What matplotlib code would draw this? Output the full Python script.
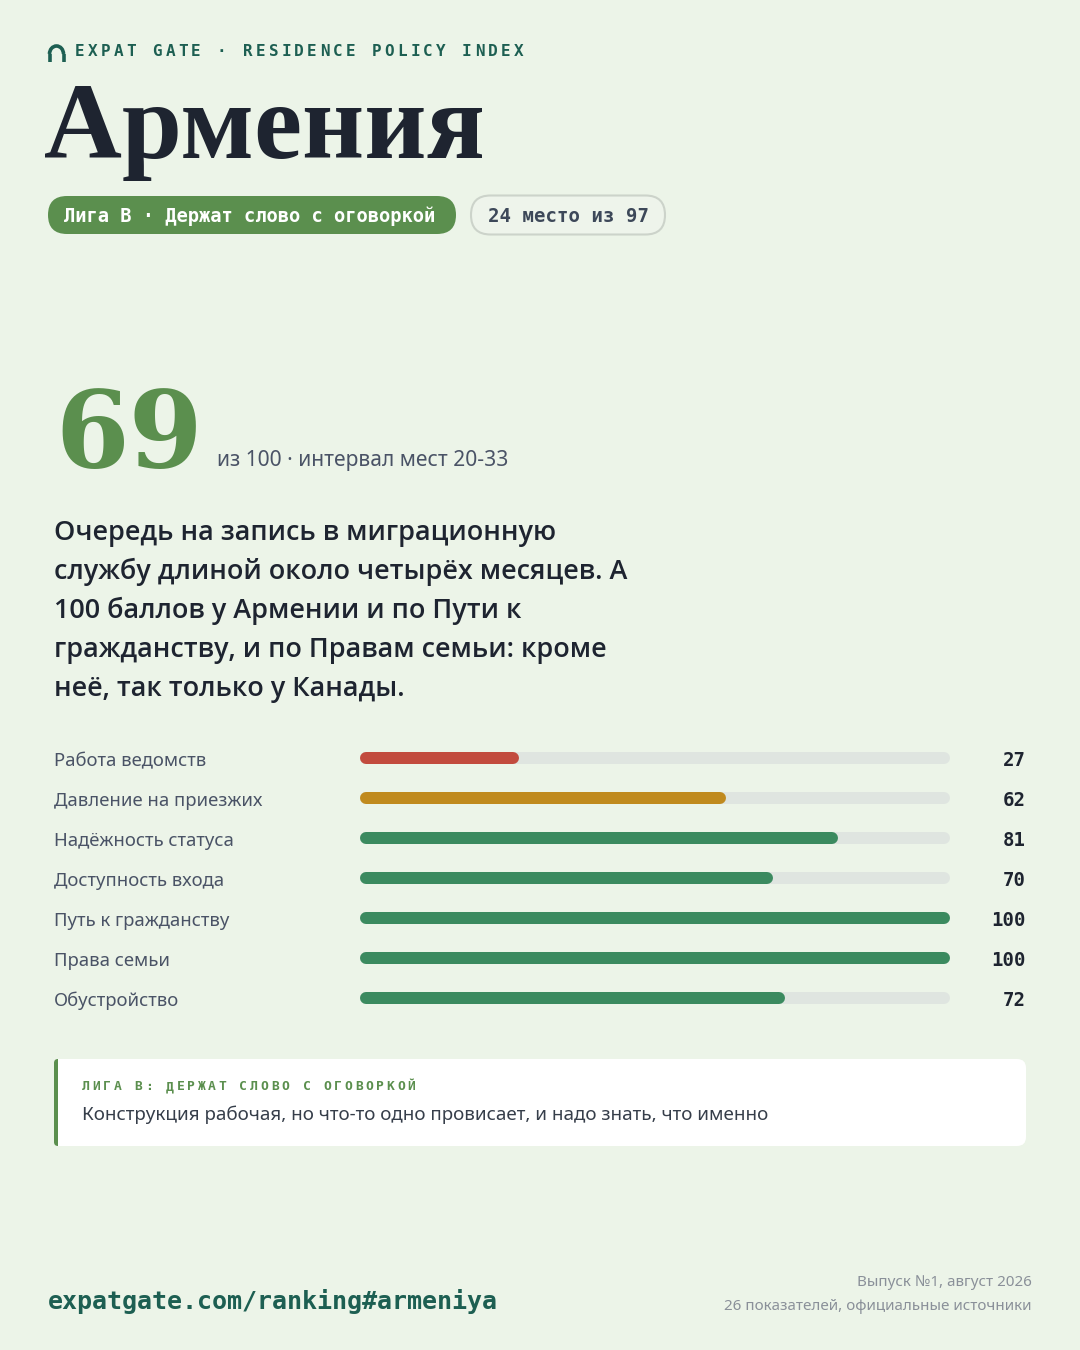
import matplotlib
matplotlib.use("Agg")
import matplotlib.pyplot as plt
from matplotlib.patches import FancyBboxPatch, Arc
import numpy as np

# данные
country = "Армения"
score = 69
league = "Лига B · Держат слово с оговоркой"
rank_text = "24 место из 97"
subtitle = "из 100 · интервал мест 20-33"
lead_lines = [
    "Очередь на запись в миграционную",
    "службу длиной около четырёх месяцев. А",
    "100 баллов у Армении и по Пути к",
    "гражданству, и по Правам семьи: кроме",
    "неё, так только у Канады.",
]
categories = ["Работа ведомств", "Давление на приезжих", "Надёжность статуса",
              "Доступность входа", "Путь к гражданству", "Права семьи", "Обустройство"]
values = [27, 62, 81, 70, 100, 100, 72]
bar_colors = ["#c24b3e", "#c08a1e", "#3b8a5f", "#3b8a5f", "#3b8a5f", "#3b8a5f", "#3b8a5f"]
note_title = "ЛИГА B: ДЕРЖАТ СЛОВО С ОГОВОРКОЙ"
note_text = "Конструкция рабочая, но что-то одно провисает, и надо знать, что именно"
url = "expatgate.com/ranking#armeniya"
footer_lines = ["Выпуск №1, август 2026", "26 показателей, официальные источники"]

BG = "#ecf4e8"
TEAL = "#1d5f52"
GREEN = "#5b8f4e"
DARK = "#1e2430"
SLATE = "#4a5366"
MONO = ["DejaVu Sans Mono"]
SANS = ["Noto Sans", "DejaVu Sans"]
SERIF = ["Liberation Serif", "DejaVu Serif"]

W, H = 1080, 1350
fig = plt.figure(figsize=(W / 100, H / 100), dpi=100, facecolor=BG)
ax = fig.add_axes([0, 0, 1, 1])
ax.set_xlim(0, W)
ax.set_ylim(H, 0)
ax.axis("off")

def px(v):
    return v * 72 / 100

# шапка
ax.add_patch(Arc((56.5, 54), 14, 16, theta1=180, theta2=360, color=TEAL, lw=2.6))
ax.plot([49.5, 49.5], [54, 62], color=TEAL, lw=2.6, solid_capstyle="butt")
ax.plot([63.5, 63.5], [54, 62], color=TEAL, lw=2.6, solid_capstyle="butt")
header = "EXPAT GATE · RESIDENCE POLICY INDEX"
for i, ch in enumerate(header):
    ax.text(75 + i * 12.9, 51, ch, fontsize=px(16), family=MONO, weight="bold",
            color=TEAL, ha="left", va="center")

ax.text(44, 158, country, fontsize=px(108), family=SERIF, weight="bold",
        color=DARK, ha="left", va="baseline")

# плашки
ax.add_patch(FancyBboxPatch((48, 196), 408, 38,
                            boxstyle="round,pad=0,rounding_size=19",
                            fc=GREEN, ec="none"))
ax.text(64, 216, league, fontsize=px(18.8), family=MONO, weight="bold",
        color="white", ha="left", va="center")
ax.add_patch(FancyBboxPatch((471, 195.5), 194, 39,
                            boxstyle="round,pad=0,rounding_size=19.5",
                            fc="#eef4eb", ec="#ccd3ca", lw=1.5))
ax.text(568, 216, rank_text, fontsize=px(19), family=MONO, weight="bold",
        color="#3d4859", ha="center", va="center")

# большой балл
ax.text(55, 467, str(score), fontsize=px(106), family=["DejaVu Serif"], weight="bold",
        color=GREEN, ha="left", va="baseline")
ax.text(217, 466, subtitle, fontsize=px(21), family=SANS, color=SLATE,
        ha="left", va="baseline")

for i, line in enumerate(lead_lines):
    ax.text(54, 540 + i * 39, line, fontsize=px(27), family=["Open Sans", "DejaVu Sans"],
            weight="semibold", color=DARK, ha="left", va="baseline")

# полосы
row_top, row_h = 738, 40
bx = fig.add_axes([360 / W, 1 - (row_top + row_h * len(values)) / H,
                   590 / W, row_h * len(values) / H])
bx.set_xlim(0, 100)
bx.set_ylim(len(values) - 0.5, -0.5)
bx.axis("off")
bx.patch.set_alpha(0)
lw = px(12)
r = 6 / 5.9
for i, (cat, v, c) in enumerate(zip(categories, values, bar_colors)):
    bx.plot([r, 100 - r], [i, i], color="#dfe5e0", lw=lw, solid_capstyle="round")
    bx.plot([r, v - r], [i, i], color=c, lw=lw, solid_capstyle="round")
    y = row_top + row_h / 2 + i * row_h
    ax.text(54, y + 3, cat, fontsize=px(18.5), family=SANS, color=SLATE,
            ha="left", va="center")
    ax.text(1026, y + 2, str(v), fontsize=px(19), family=MONO, weight="bold",
            color=DARK, ha="right", va="center")

# примечание
ax.add_patch(FancyBboxPatch((54, 1059), 972, 87,
                            boxstyle="round,pad=0,rounding_size=9",
                            fc="white", ec="none"))
ax.add_patch(FancyBboxPatch((54, 1059), 10, 87,
                            boxstyle="round,pad=0,rounding_size=4",
                            fc=GREEN, ec="none"))
ax.add_patch(plt.Rectangle((58, 1059), 12, 87, fc="white", ec="none"))
for i, ch in enumerate(note_title):
    ax.text(82 + i * 10.5, 1087, ch, fontsize=px(13), family=MONO, weight="bold",
            color=GREEN, ha="left", va="center")
ax.text(82, 1115, note_text, fontsize=px(18.8), family=SANS, color="#363e4a",
        ha="left", va="center")

# подвал
ax.text(48, 1301, url, fontsize=px(25), family=MONO, weight="bold",
        color=TEAL, ha="left", va="center")
for i, line in enumerate(footer_lines):
    ax.text(1032, 1282 + i * 24, line, fontsize=px(15.2), family=SANS,
            color="#8a9099", ha="right", va="center")

fig.savefig("out.png", dpi=100, facecolor=BG)
